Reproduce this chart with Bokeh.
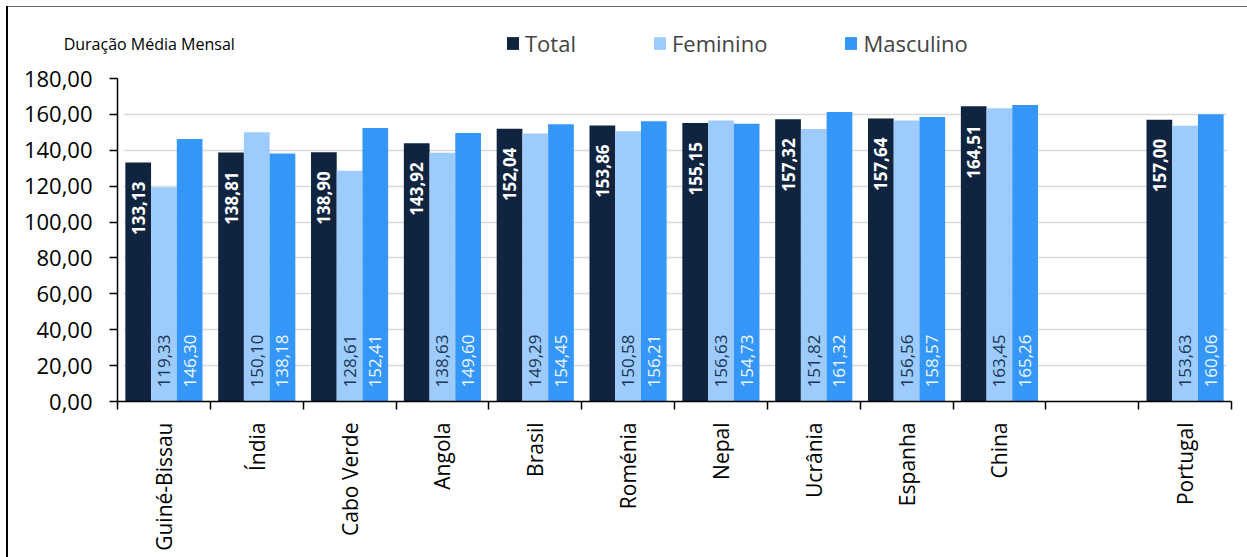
from bokeh.plotting import figure
from bokeh.models import (Range1d, FixedTicker, PrintfTickFormatter, ColumnDataSource,
                          Legend, LegendItem, Label)
from bokeh.core.properties import value
from bokeh.embed import file_html
from bokeh.resources import INLINE
import math

countries = ["Guiné-Bissau", "Índia", "Cabo Verde", "Angola", "Brasil", "Roménia",
             "Nepal", "Ucrânia", "Espanha", "China", "", "Portugal"]
total = [133.13, 138.81, 138.90, 143.92, 152.04, 153.86, 155.15, 157.32, 157.64, 164.51, None, 157.00]
feminino = [119.33, 150.10, 128.61, 138.63, 149.29, 150.58, 156.63, 151.82, 156.56, 163.45, None, 153.63]
masculino = [146.30, 138.18, 152.41, 149.60, 154.45, 156.21, 154.73, 161.32, 158.57, 165.26, None, 160.06]
y_ticks = [0, 20, 40, 60, 80, 100, 120, 140, 160, 180]

C_TOT = "#10243f"
C_FEM = "#9dcbfb"
C_MAS = "#3497f7"
FONT = "Open Sans"

W, H = 1247, 557
N = len(countries)
Y_MAX = 180
# plot area in pixels: x axis from 117 to 1231, y axis from 401 (0) to 78 (180)
px_per_x = (1231 - 117) / N
px_per_y = (401 - 78) / Y_MAX
x_start = -117 / px_per_x
x_end = (W - 117) / px_per_x
y_start = -(H - 401) / px_per_y
y_end = 401 / px_per_y

p = figure(width=W, height=H, output_backend="svg", toolbar_location=None,
           x_range=Range1d(x_start, x_end), y_range=Range1d(y_start, y_end),
           min_border=0, min_border_left=0, min_border_right=0,
           min_border_top=0, min_border_bottom=0)
p.outline_line_color = None
p.background_fill_color = None
p.border_fill_color = None
p.styles = {
    "background": ("linear-gradient(#000000, #000000) 6px 6px / 2px 100% no-repeat, "
                   "linear-gradient(#6b6b6b, #6b6b6b) 6px 6px / 100% 1px no-repeat, #ffffff"),
}

BW = 0.277
offsets = [-BW, 0.0, BW]
series = [("Total", total, C_TOT), ("Feminino", feminino, C_FEM), ("Masculino", masculino, C_MAS)]

def fmt(v):
    return f"{v:.2f}".replace(".", ",")

# Grid (drawn first, under the bars)
p.xgrid.visible = False
p.ygrid.ticker = FixedTicker(ticks=[20, 40, 60, 80, 100, 120, 140, 160])
p.ygrid.grid_line_color = "#d9d9d9"
p.ygrid.grid_line_width = 1.5
try:
    p.ygrid.cross_bounds = (0.065, N - 0.05)
except Exception:
    pass

renderers = []
for k, (name, vals, col) in enumerate(series):
    xs = [i + 0.5 + offsets[k] for i, v in enumerate(vals) if v is not None]
    ys = [v for v in vals if v is not None]
    src = ColumnDataSource(dict(x=xs, top=ys, lab=[fmt(v) for v in ys], zero=[0] * len(ys)))
    r = p.vbar(x="x", top="top", width=BW, source=src, fill_color=col, line_color=None)
    renderers.append((name, r))
    if k == 0:
        p.text(x="x", y="top", text="lab", source=src, angle=math.pi / 2,
               text_align="right", text_baseline="middle", y_offset=19,
               text_color="white", text_font=value(FONT), text_font_style="bold",
               text_font_size="17px")
    else:
        p.text(x="x", y="zero", text="lab", source=src, angle=math.pi / 2,
               text_align="left", text_baseline="middle", y_offset=-14,
               text_color="#1b3657" if k == 1 else "#eef6ff", text_font=value(FONT),
               text_font_size="17px")

# Y axis
ya = p.yaxis[0]
ya.fixed_location = 0
ya.ticker = FixedTicker(ticks=y_ticks)
ya.bounds = (0, Y_MAX)
ya.formatter = PrintfTickFormatter(format="%d,00")
ya.major_label_text_font = FONT
ya.major_label_text_font_size = "22px"
ya.major_label_text_color = "black"
ya.major_tick_out = 8
ya.major_tick_in = 0
ya.minor_tick_out = 0
ya.minor_tick_in = 0
ya.major_label_standoff = 17
ya.axis_line_color = "black"
ya.axis_line_width = 1.5
ya.major_tick_line_color = "black"
ya.major_tick_line_width = 1.5

# X axis
xa = p.xaxis[0]
xa.fixed_location = 0
centers = [i + 0.5 for i in range(N)]
bounds = list(range(N + 1))
xa.ticker = FixedTicker(ticks=centers, minor_ticks=bounds)
xa.bounds = (0, N)
xa.major_label_overrides = {c: n for c, n in zip(centers, countries)}
xa.major_label_orientation = math.pi / 2
xa.major_label_text_font = FONT
xa.major_label_text_font_size = "21px"
xa.major_label_text_color = "black"
xa.major_tick_out = 0
xa.major_tick_in = 0
xa.minor_tick_out = 8
xa.minor_tick_in = 0
xa.minor_tick_line_color = "black"
xa.minor_tick_line_width = 1.5
xa.major_label_standoff = 13
xa.axis_line_color = "black"
xa.axis_line_width = 1.5

legend = Legend(items=[LegendItem(label=n, renderers=[r]) for n, r in renderers],
                orientation="horizontal", location=(505, H - 58),
                glyph_width=15, glyph_height=16, label_standoff=5, spacing=76,
                padding=0, margin=0, border_line_color=None, background_fill_alpha=0,
                label_text_font=FONT, label_text_font_size="22px", label_height=22)
p.add_layout(legend, "center")

p.add_layout(Label(x=-0.58, y=199, x_units="data", y_units="data",
                   text="Duração Média Mensal", text_font=FONT, text_font_size="16px",
                   text_color="black", text_baseline="alphabetic"))

open("out.html", "w").write(file_html(p, INLINE))
